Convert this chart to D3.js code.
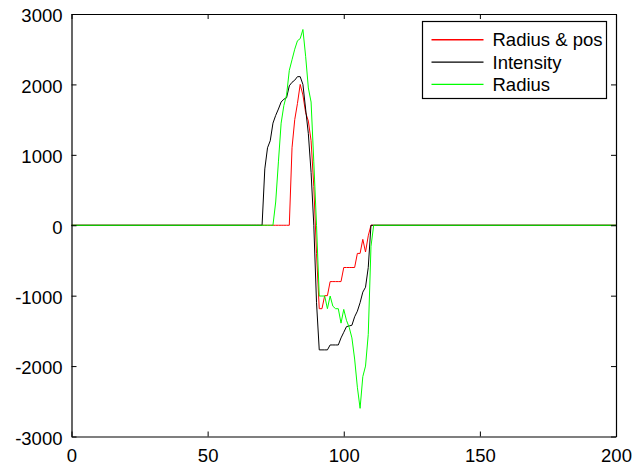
<!DOCTYPE html>
<html>
<head>
<meta charset="utf-8">
<script src="https://cdn.jsdelivr.net/npm/d3@7"></script>
<style>
  body { margin: 0; background: #fff; }
  svg { font-family: "Liberation Sans", Arial, sans-serif; }
</style>
</head>
<body>
<div id="chart"></div>
<script>
// sample positions (flat zero everywhere outside 66..113)
const xValues = [0, 66, 67, 68, 69, 70, 71, 72, 73, 74, 75, 76, 77, 78, 79, 80,
  81, 82, 83, 84, 85, 86, 87, 88, 89, 90, 91, 92, 93, 94, 95, 96, 97, 98, 99, 100,
  101, 102, 103, 104, 105, 106, 107, 108, 109, 110, 111, 112, 113, 200];

const radiusPos = [0, 0, 0, 0, 0, 0, 0, 0, 0, 0, 0, 0, 0, 0, 0, 0,
  1100, 1500, 1730, 2000, 1850, 1600, 1480, 1200, 550, -400, -1185, -1185, -1000, -1000, -800, -800, -800, -800, -800, -600,
  -600, -600, -600, -600, -400, -400, -200, -380, -150, 0, 0, 0, 0, 0];

const intensity = [0, 0, 0, 0, 0, 0, 800, 1100, 1200, 1450, 1560, 1650, 1750, 1790, 1810, 1980,
  2030, 2060, 2110, 2110, 2000, 1650, 1300, 750, 0, -1100, -1770, -1770, -1770, -1770, -1700, -1700, -1700, -1700, -1600, -1520,
  -1440, -1430, -1420, -1300, -1220, -1100, -950, -880, -600, 0, 0, 0, 0, 0];

const radius = [0, 0, 0, 0, 0, 0, 0, 0, 0, 0, 330, 900, 1450, 1700, 1850, 2200,
  2350, 2500, 2620, 2650, 2780, 2400, 1950, 1750, 900, 0, -1005, -1005, -1005, -1185, -1005, -1150, -1185, -1185, -1390, -1195,
  -1350, -1450, -1600, -1900, -2300, -2600, -2150, -2000, -1550, -300, 0, 0, 0, 0];

const seriesNames = ["Radius & pos", "Intensity", "Radius"];
const seriesColors = ["#ff0000", "#000000", "#00ff00"];
const xTicks = [0, 50, 100, 150, 200];
const yTicks = [-3000, -2000, -1000, 0, 1000, 2000, 3000];

const W = 635, H = 467;
const margin = { top: 14, right: 19, bottom: 30.5, left: 71.5 };
const width = W - margin.left - margin.right;
const height = H - margin.top - margin.bottom;

const svg = d3.select("#chart").append("svg")
    .attr("width", W)
    .attr("height", H);

const g = svg.append("g")
    .attr("transform", `translate(${margin.left},${margin.top})`);

const x = d3.scaleLinear().domain([0, 200]).range([0, width]);
const y = d3.scaleLinear().domain([-3000, 3000]).range([height, 0]);

// lines, green drawn last so it sits on top
const series = [radiusPos, intensity, radius];
const lineGen = d3.line()
    .x((d, i) => x(xValues[i]))
    .y(d => y(d));

series.forEach((vals, k) => {
    g.append("path")
        .datum(vals)
        .attr("fill", "none")
        .style("stroke", seriesColors[k])
        .attr("stroke-width", 1)
        .attr("d", lineGen);
});

// axes, matlab style box with inward ticks
const fontSize = "18.5px";
const plain = d => String(d); // hyphen minus, no thousands comma
const xAxis = g.append("g")
    .attr("transform", `translate(0,${height})`)
    .call(d3.axisBottom(x).tickValues(xTicks).tickSize(-5).tickPadding(12).tickSizeOuter(0).tickFormat(plain));
const yAxis = g.append("g")
    .call(d3.axisLeft(y).tickValues(yTicks).tickSize(-5).tickPadding(9).tickSizeOuter(0).tickFormat(plain));
g.append("g")
    .call(d3.axisTop(x).tickValues(xTicks).tickSize(-5).tickSizeOuter(0).tickFormat(""));
g.append("g")
    .attr("transform", `translate(${width},0)`)
    .call(d3.axisRight(y).tickValues(yTicks).tickSize(-5).tickSizeOuter(0).tickFormat(""));

g.selectAll(".domain").attr("stroke", "#000").attr("stroke-width", 1.2);
g.selectAll(".tick line").attr("stroke", "#000");
g.selectAll(".tick text").attr("fill", "#000").style("font-size", fontSize);
yAxis.selectAll(".tick text").attr("dy", "0.42em");

// legend
const legend = g.append("g")
    .attr("transform", `translate(${422.5 - margin.left},${21.5 - margin.top})`);
legend.append("rect")
    .attr("width", 184)
    .attr("height", 77)
    .attr("fill", "#fff")
    .attr("stroke", "#000")
    .attr("stroke-width", 1.2);

seriesNames.forEach((name, k) => {
    const cy = 18.3 + k * 22.3;
    legend.append("line")
        .attr("x1", 9).attr("x2", 61)
        .attr("y1", cy).attr("y2", cy)
        .style("stroke", seriesColors[k])
        .attr("stroke-width", 1.4);
    legend.append("text")
        .attr("x", 70)
        .attr("y", cy)
        .attr("dy", "0.36em")
        .style("font-size", fontSize)
        .text(name);
});
</script>
</body>
</html>
